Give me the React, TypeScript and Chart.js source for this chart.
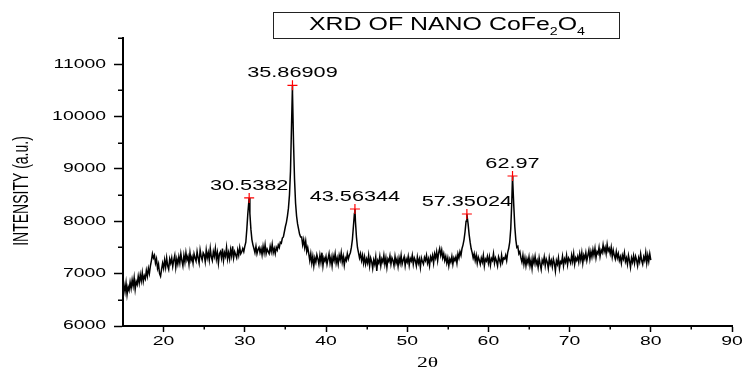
import React, { useEffect, useRef } from "react";
import { Chart, registerables } from "chart.js";

Chart.register(...registerables);

// ---- data ----
const thetaStart = 15;
const thetaStep = 0.125;
// intensity sampled every 0.125 deg of 2-theta, from 15 to 80 (one row per degree)
const intensity = [
  6620, 6780, 6650, 6820, 6600, 6750, 6680, 6840, // 15
  6720, 6880, 6760, 6920, 6700, 6850, 6790, 6950, // 16
  6820, 6980, 6860, 7020, 6850, 6960, 6900, 7060, // 17
  6950, 7100, 7000, 7150, 7250, 7380, 7300, 7350, // 18
  7200, 7280, 7100, 7180, 7000, 6950, 7080, 7200, // 19
  7100, 7260, 7120, 7300, 7150, 7080, 7280, 7200, // 20
  7300, 7140, 7260, 7350, 7120, 7280, 7180, 7320, // 21
  7200, 7380, 7250, 7150, 7350, 7220, 7400, 7260, // 22
  7330, 7180, 7400, 7250, 7320, 7200, 7380, 7300, // 23
  7240, 7420, 7300, 7200, 7450, 7330, 7260, 7400, // 24
  7360, 7230, 7450, 7300, 7400, 7260, 7480, 7320, // 25
  7250, 7420, 7330, 7480, 7280, 7400, 7200, 7380, // 26
  7420, 7300, 7480, 7250, 7400, 7330, 7500, 7280, // 27
  7400, 7280, 7460, 7340, 7520, 7300, 7420, 7360, // 28
  7300, 7450, 7350, 7500, 7380, 7420, 7480, 7420, // 29
  7520, 7600, 7850, 8150, 8380, 8150, 7850, 7650, // 30
  7550, 7480, 7400, 7520, 7380, 7460, 7500, 7400, // 31
  7480, 7360, 7520, 7400, 7550, 7380, 7470, 7420, // 32
  7380, 7520, 7420, 7560, 7400, 7480, 7380, 7500, // 33
  7450, 7550, 7500, 7600, 7580, 7680, 7700, 7800, // 34
  7900, 7980, 8100, 8250, 8500, 8950, 9800, 10450, // 35
  9500, 8800, 8350, 8100, 7950, 7850, 7750, 7700, // 36
  7700, 7550, 7650, 7500, 7620, 7420, 7500, 7380, // 37
  7250, 7380, 7200, 7330, 7150, 7300, 7220, 7360, // 38
  7280, 7180, 7350, 7220, 7400, 7150, 7300, 7240, // 39
  7330, 7180, 7280, 7380, 7200, 7310, 7150, 7340, // 40
  7250, 7380, 7200, 7300, 7180, 7350, 7260, 7400, // 41
  7220, 7330, 7160, 7300, 7250, 7380, 7280, 7350, // 42
  7400, 7500, 7650, 7900, 8150, 8000, 7700, 7500, // 43
  7400, 7300, 7380, 7250, 7350, 7200, 7320, 7180, // 44
  7280, 7200, 7350, 7150, 7300, 7230, 7100, 7260, // 45
  7180, 7320, 7050, 7250, 7200, 7330, 7150, 7280, // 46
  7220, 7350, 7180, 7300, 7120, 7280, 7230, 7340, // 47
  7180, 7300, 7250, 7150, 7330, 7200, 7280, 7140, // 48
  7300, 7200, 7350, 7180, 7260, 7320, 7150, 7280, // 49
  7220, 7330, 7160, 7290, 7240, 7350, 7180, 7300, // 50
  7250, 7150, 7320, 7200, 7280, 7120, 7300, 7230, // 51
  7180, 7310, 7250, 7350, 7200, 7280, 7150, 7320, // 52
  7260, 7350, 7200, 7380, 7300, 7420, 7250, 7400, // 53
  7480, 7350, 7450, 7300, 7380, 7250, 7330, 7200, // 54
  7300, 7150, 7280, 7220, 7330, 7180, 7300, 7250, // 55
  7320, 7200, 7380, 7300, 7420, 7350, 7480, 7550, // 56
  7650, 7800, 8000, 8100, 7950, 7750, 7600, 7480, // 57
  7400, 7300, 7380, 7250, 7350, 7200, 7320, 7260, // 58
  7180, 7300, 7220, 7350, 7150, 7280, 7240, 7330, // 59
  7200, 7320, 7160, 7290, 7250, 7380, 7200, 7300, // 60
  7240, 7150, 7320, 7260, 7180, 7350, 7220, 7300, // 61
  7280, 7350, 7250, 7400, 7480, 7600, 7850, 8350, // 62
  8750, 8300, 7900, 7650, 7500, 7520, 7380, 7420, // 63
  7300, 7220, 7350, 7180, 7300, 7150, 7280, 7200, // 64
  7320, 7150, 7260, 7100, 7300, 7200, 7330, 7180, // 65
  7250, 7120, 7300, 7180, 7080, 7260, 7200, 7320, // 66
  7150, 7280, 7220, 7100, 7300, 7180, 7250, 7130, // 67
  7280, 7200, 7050, 7250, 7180, 7300, 7100, 7230, // 68
  7200, 7330, 7150, 7280, 7220, 7350, 7170, 7300, // 69
  7260, 7200, 7350, 7230, 7380, 7180, 7300, 7250, // 70
  7330, 7220, 7380, 7260, 7400, 7200, 7350, 7280, // 71
  7400, 7250, 7350, 7450, 7280, 7420, 7320, 7460, // 72
  7350, 7480, 7300, 7420, 7380, 7500, 7330, 7450, // 73
  7400, 7550, 7420, 7500, 7380, 7560, 7430, 7480, // 74
  7380, 7500, 7320, 7450, 7350, 7280, 7420, 7300, // 75
  7380, 7250, 7320, 7200, 7350, 7280, 7400, 7230, // 76
  7300, 7180, 7350, 7250, 7120, 7300, 7220, 7340, // 77
  7200, 7330, 7260, 7150, 7300, 7220, 7380, 7250, // 78
  7180, 7320, 7250, 7400, 7200, 7350, 7230, 7380, // 79
  7260, // 80
];

const peakTheta = [30.5382, 35.86909, 43.56344, 57.35024, 62.97];
const peakIntensity = [8445, 10597, 8234, 8139, 8865];
const peakLabels = ["30.5382", "35.86909", "43.56344", "57.35024", "62.97"];

const xTicks = [20, 30, 40, 50, 60, 70, 80, 90];
const xMinorTicks = [25, 35, 45, 55, 65, 75, 85];
const yTicks = [6000, 7000, 8000, 9000, 10000, 11000];
const yMinorTicks = [6500, 7500, 8500, 9500, 10500, 11500];

const titleParts: { text: string; sub: boolean }[] = [
  { text: "XRD OF NANO CoFe", sub: false },
  { text: "2", sub: true },
  { text: "O", sub: false },
  { text: "4", sub: true },
];
const xTitle = "2θ";
const yTitle = "INTENSITY (a.u.)";

// ---- styling ----
const SANS = "'Liberation Sans', Arial, Helvetica, sans-serif";
const SERIF = "'Liberation Serif', 'Times New Roman', serif";
const TEXT_STRETCH = 1.55;
let stretch = TEXT_STRETCH;
const nudges: Record<string, [number, number]> = { [yTitle]: [0, 9] };

const stretchPlugin = {
  id: "stretchText",
  beforeDraw(chart: any) {
    const ctx: any = chart.ctx;
    const proto = Object.getPrototypeOf(ctx);
    const orig = proto.fillText;
    ctx.fillText = function (text: string, x: number, y: number, maxWidth?: number) {
      const m = ctx.getTransform();
      const px = m.a * x + m.c * y + m.e;
      const py = m.b * x + m.d * y + m.f;
      const n = nudges[text] || [0, 0];
      const t = new DOMMatrix()
        .translate(px + n[0], py + n[1])
        .scale(stretch, 1)
        .translate(-px, -py)
        .multiply(m);
      ctx.save();
      ctx.setTransform(t);
      if (maxWidth === undefined) orig.call(ctx, text, x, y);
      else orig.call(ctx, text, x, y, maxWidth);
      ctx.restore();
    };
  },
  afterDatasetsDraw(chart: any) {
    const ctx: CanvasRenderingContext2D = chart.ctx;
    const xs = chart.scales.x;
    const ys = chart.scales.y;
    const area = chart.chartArea;

    // minor ticks
    ctx.save();
    ctx.strokeStyle = "#000";
    ctx.lineWidth = 1.5;
    ctx.beginPath();
    xMinorTicks.forEach((v) => {
      const px = Math.round(xs.getPixelForValue(v)) + 0.25;
      ctx.moveTo(px, area.bottom);
      ctx.lineTo(px, area.bottom + 3.5);
    });
    yMinorTicks.forEach((v) => {
      const py = Math.round(ys.getPixelForValue(v)) + 0.25;
      ctx.moveTo(area.left, py);
      ctx.lineTo(area.left - 5, py);
    });
    ctx.stroke();
    ctx.restore();

    // peak labels
    ctx.save();
    stretch = TEXT_STRETCH;
    ctx.fillStyle = "#000";
    ctx.font = `14px ${SANS}`;
    ctx.textAlign = "center";
    ctx.textBaseline = "alphabetic";
    peakTheta.forEach((t, i) => {
      const px = xs.getPixelForValue(t);
      const py = ys.getPixelForValue(peakIntensity[i]);
      ctx.fillText(peakLabels[i], px, py - 8);
    });
    ctx.restore();

    // title box
    ctx.save();
    ctx.strokeStyle = "#222";
    ctx.lineWidth = 1;
    ctx.strokeRect(273.5, 12.5, 346, 26);
    const mainFont = `17.5px ${SANS}`;
    const subFont = `10px ${SANS}`;
    let total = 0;
    const widths = titleParts.map((p) => {
      ctx.font = p.sub ? subFont : mainFont;
      const w = ctx.measureText(p.text).width;
      total += w;
      return w;
    });
    const sx = 276 / total;
    stretch = 1;
    ctx.translate(447, 30);
    ctx.scale(sx, 1);
    ctx.fillStyle = "#000";
    ctx.textAlign = "left";
    ctx.textBaseline = "alphabetic";
    let cx = -total / 2;
    titleParts.forEach((p, i) => {
      ctx.font = p.sub ? subFont : mainFont;
      ctx.fillText(p.text, cx, p.sub ? 5 : 0);
      cx += widths[i];
    });
    ctx.restore();
    stretch = TEXT_STRETCH;
  },
  afterDraw(chart: any) {
    const ctx: any = chart.ctx;
    delete ctx.fillText;
  },
};

export default function App() {
  const ref = useRef<HTMLCanvasElement>(null);

  useEffect(() => {
    const canvas = ref.current;
    if (!canvas) return;

    const pattern = intensity
      .map((v, i) => ({ x: thetaStart + i * thetaStep, y: v }))
      .concat(peakTheta.map((t, i) => ({ x: t, y: peakIntensity[i] })))
      .sort((a, b) => a.x - b.x);
    const peaks = peakTheta.map((t, i) => ({ x: t, y: peakIntensity[i] }));

    const chart = new Chart(canvas, {
      type: "scatter",
      data: {
        datasets: [
          {
            label: "peaks",
            data: peaks,
            showLine: false,
            pointStyle: "cross",
            pointRadius: 5,
            pointBorderColor: "#ff0000",
            pointBorderWidth: 1.2,
            pointBackgroundColor: "#ff0000",
          },
          {
            label: "XRD",
            data: pattern,
            showLine: true,
            borderColor: "#000",
            borderWidth: 1.5,
            pointRadius: 0,
            tension: 0,
            fill: false,
          },
        ],
      },
      options: {
        animation: false,
        responsive: false,
        layout: { padding: { left: 0, right: 11, top: 38, bottom: 0 } },
        plugins: {
          legend: { display: false },
          tooltip: { enabled: false },
          title: { display: false },
        },
        scales: {
          x: {
            type: "linear",
            position: "bottom",
            min: 15,
            max: 90,
            afterBuildTicks: (s: any) => {
              s.ticks = xTicks.map((v) => ({ value: v }));
            },
            afterFit: (s: any) => {
              s.height = 43;
            },
            ticks: {
              callback: (v: any) => String(v),
              color: "#000",
              font: { family: SANS, size: 12.5 },
              padding: 2,
              maxRotation: 0,
              autoSkip: false,
            },
            grid: {
              display: true,
              drawOnChartArea: false,
              drawTicks: true,
              tickLength: 6,
              tickWidth: 1.5,
              tickColor: "#000",
            },
            border: { display: true, color: "#000", width: 2 },
            title: {
              display: true,
              text: xTitle,
              color: "#000",
              font: { family: SERIF, size: 14, lineHeight: 0.75 },
              padding: 0,
            },
          },
          y: {
            type: "linear",
            position: "left",
            min: 6000,
            max: 11500,
            afterBuildTicks: (s: any) => {
              s.ticks = yTicks.map((v) => ({ value: v }));
            },
            afterFit: (s: any) => {
              s.width = 123;
            },
            ticks: {
              callback: (v: any) => String(v),
              color: "#000",
              font: { family: SANS, size: 12.5 },
              padding: 8,
              autoSkip: false,
            },
            grid: {
              display: true,
              drawOnChartArea: false,
              drawTicks: true,
              tickLength: 9,
              tickWidth: 1.5,
              tickColor: "#000",
            },
            border: { display: true, color: "#000", width: 2 },
            title: {
              display: true,
              text: yTitle,
              color: "#000",
              font: { family: SANS, size: 14 },
              padding: { top: 14, bottom: 0 },
            },
          },
        },
      } as any,
      plugins: [stretchPlugin],
    });

    return () => chart.destroy();
  }, []);

  return (
    <div
      style={{
        position: "fixed",
        left: 0,
        top: 0,
        width: 743,
        height: 369,
        background: "#fff",
      }}
    >
      <canvas
        ref={ref}
        width={743}
        height={369}
        style={{ display: "block", width: 743, height: 369 }}
      />
    </div>
  );
}
